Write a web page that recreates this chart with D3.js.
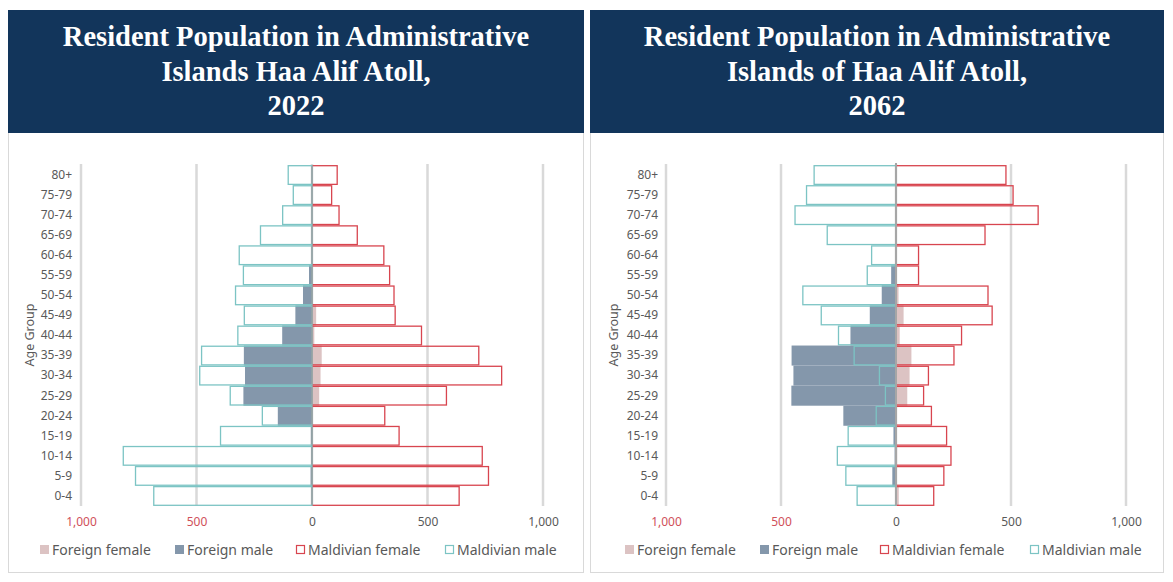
<!DOCTYPE html>
<html>
<head>
<meta charset="utf-8">
<script src="https://cdn.jsdelivr.net/npm/d3@7"></script>
<style>
  body { margin: 0; background: #fff; }
  svg { display: block; }
</style>
</head>
<body>
<div id="chart"></div>
<script>
const ageGroups = ["0-4", "5-9", "10-14", "15-19", "20-24", "25-29", "30-34", "35-39",
  "40-44", "45-49", "50-54", "55-59", "60-64", "65-69", "70-74", "75-79", "80+"];

// 2022
const maldivianMale2022 = [685, 764, 817, 396, 215, 354, 486, 478, 321, 293, 331, 297, 315, 223, 127, 81, 103];
const maldivianFemale2022 = [637, 764, 737, 377, 315, 582, 821, 722, 474, 360, 355, 336, 311, 196, 117, 85, 109];
const foreignMale2022 = [0, 6, 2, 5, 148, 297, 290, 295, 129, 72, 39, 13, 0, 0, 0, 0, 0];
const foreignFemale2022 = [2, 2, 2, 2, 3, 31, 37, 42, 10, 18, 3, 1, 0, 0, 0, 0, 0];

// 2062
const maldivianMale2062 = [169, 218, 255, 208, 86, 46, 72, 182, 250, 325, 405, 125, 106, 299, 439, 389, 356];
const maldivianFemale2062 = [164, 208, 239, 220, 154, 120, 141, 252, 285, 418, 400, 98, 98, 387, 618, 509, 478];
const foreignMale2062 = [3, 16, 6, 11, 229, 455, 446, 454, 198, 114, 62, 21, 0, 0, 0, 0, 0];
const foreignFemale2062 = [12, 4, 5, 3, 3, 49, 59, 67, 16, 33, 11, 2, 0, 0, 0, 0, 0];

const tickValues = [-1000, -500, 0, 500, 1000];
const legendLabels = ["Foreign female", "Foreign male", "Maldivian female", "Maldivian male"];

const colors = {
  header: "#12355b",
  foreignFemale: "#dcc3c3",
  foreignMale: "#8497ab",
  maldFemale: "#d8454f",
  maldMale: "#7cc4c4",
  grid: "#d9d9d9",
  text: "#595959",
  negTick: "#d0505a"
};

const width = 1173, height = 582;

const svg = d3.select("#chart")
  .append("svg")
  .attr("width", width)
  .attr("height", height);

const panels = [
  {
    x0: 8, x1: 584,
    title: ["Resident Population in Administrative", "Islands Haa Alif Atoll,", "2022"],
    plot: [81, 543],
    labelX: 72,
    axisTitleX: 34,
    zeroLine: false,
    mm: maldivianMale2022, mf: maldivianFemale2022, fm: foreignMale2022, ff: foreignFemale2022,
    legendX: [40, 175, 296, 445]
  },
  {
    x0: 590, x1: 1164,
    title: ["Resident Population in Administrative", "Islands of Haa Alif Atoll,", "2062"],
    plot: [666, 1126],
    labelX: 658,
    axisTitleX: 618,
    zeroLine: true,
    mm: maldivianMale2062, mf: maldivianFemale2062, fm: foreignMale2062, ff: foreignFemale2062,
    legendX: [625, 760, 880, 1030]
  }
];

const yScale = d3.scaleBand()
  .domain(ageGroups.slice().reverse())
  .range([165, 506])
  .paddingInner(0);

panels.forEach((p) => {
  const g = svg.append("g");

  // panel frame + header
  g.append("rect")
    .attr("x", p.x0 + 0.5).attr("y", 10.5)
    .attr("width", p.x1 - p.x0 - 1).attr("height", 562)
    .attr("fill", "#fff")
    .attr("stroke", "#d9d9d9");

  g.append("rect")
    .attr("x", p.x0).attr("y", 10)
    .attr("width", p.x1 - p.x0).attr("height", 123)
    .attr("fill", colors.header);

  const cx = (p.x0 + p.x1) / 2;
  g.append("text")
    .attr("text-anchor", "middle")
    .attr("font-family", "'Liberation Serif', 'DejaVu Serif', serif")
    .attr("font-weight", "bold")
    .attr("font-size", 28.5)
    .attr("fill", "#fff")
    .selectAll("tspan")
    .data(p.title)
    .join("tspan")
    .attr("x", cx)
    .attr("y", (d, i) => 46 + i * 34.5)
    .text((d) => d);

  const xScale = d3.scaleLinear()
    .domain([-1000, 1000])
    .range(p.plot);

  // gridlines
  g.append("g")
    .selectAll("line")
    .data(tickValues)
    .join("line")
    .attr("x1", (d) => xScale(d)).attr("x2", (d) => xScale(d))
    .attr("y1", 164).attr("y2", 506)
    .attr("stroke", colors.grid)
    .attr("stroke-width", 2.5);

  // x axis
  const xAxis = g.append("g")
    .attr("transform", `translate(0, 506)`)
    .call(d3.axisBottom(xScale)
      .tickValues(tickValues)
      .tickSize(0)
      .tickPadding(11)
      .tickFormat((d) => d3.format(",")(Math.abs(d))));
  xAxis.select(".domain").remove();
  xAxis.selectAll("text")
    .attr("font-family", "'Noto Sans', sans-serif")
    .attr("font-size", 12)
    .attr("fill", (d) => d < 0 ? colors.negTick : colors.text);

  // y labels
  const yAxis = g.append("g")
    .attr("transform", `translate(${p.labelX}, 0)`)
    .call(d3.axisLeft(yScale).tickSize(0).tickPadding(0));
  yAxis.select(".domain").remove();
  yAxis.selectAll("text")
    .attr("font-family", "'Noto Sans', sans-serif")
    .attr("font-size", 12)
    .attr("fill", colors.text);

  g.append("text")
    .attr("transform", `translate(${p.axisTitleX}, 335) rotate(-90)`)
    .attr("text-anchor", "middle")
    .attr("font-family", "'Noto Sans', sans-serif")
    .attr("font-size", 12.5)
    .attr("fill", colors.text)
    .text("Age Group");

  const zero = xScale(0);
  const bh = yScale.bandwidth();

  // foreign female (filled, right)
  g.append("g")
    .selectAll("rect")
    .data(ageGroups)
    .join("rect")
    .attr("x", zero)
    .attr("y", (d) => yScale(d))
    .attr("width", (d, i) => xScale(p.ff[i]) - zero)
    .attr("height", bh)
    .attr("fill", colors.foreignFemale);

  // foreign male (filled, left)
  g.append("g")
    .selectAll("rect")
    .data(ageGroups)
    .join("rect")
    .attr("x", (d, i) => xScale(-p.fm[i]))
    .attr("y", (d) => yScale(d))
    .attr("width", (d, i) => zero - xScale(-p.fm[i]))
    .attr("height", bh)
    .attr("fill", colors.foreignMale);

  // maldivian female (outline, right)
  g.append("g")
    .selectAll("rect")
    .data(ageGroups)
    .join("rect")
    .attr("x", zero)
    .attr("y", (d) => yScale(d) + 0.7)
    .attr("width", (d, i) => xScale(p.mf[i]) - zero)
    .attr("height", bh - 1.4)
    .attr("fill", "none")
    .attr("stroke", colors.maldFemale)
    .attr("stroke-width", 1.3);

  // maldivian male (outline, left)
  g.append("g")
    .selectAll("rect")
    .data(ageGroups)
    .join("rect")
    .attr("x", (d, i) => xScale(-p.mm[i]))
    .attr("y", (d) => yScale(d) + 0.7)
    .attr("width", (d, i) => zero - xScale(-p.mm[i]))
    .attr("height", bh - 1.4)
    .attr("fill", "none")
    .attr("stroke", colors.maldMale)
    .attr("stroke-width", 1.3);

  if (p.zeroLine) {
    g.append("line")
      .attr("x1", zero).attr("x2", zero)
      .attr("y1", 163).attr("y2", 506)
      .attr("stroke", "#a6a6a6")
      .attr("stroke-width", 2);
  }

  // legend
  const legend = g.append("g")
    .selectAll("g")
    .data(legendLabels)
    .join("g")
    .attr("transform", (d, i) => `translate(${p.legendX[i]}, 550)`);

  legend.append("rect")
    .attr("x", (d, i) => i < 2 ? 0 : 0.5)
    .attr("y", (d, i) => i < 2 ? -5 : -4.5)
    .attr("width", (d, i) => i < 2 ? 9 : 8)
    .attr("height", (d, i) => i < 2 ? 9 : 8)
    .attr("fill", (d, i) => i === 0 ? colors.foreignFemale : i === 1 ? colors.foreignMale : "#fff")
    .attr("stroke", (d, i) => i === 2 ? colors.maldFemale : i === 3 ? colors.maldMale : "none")
    .attr("stroke-width", 1.2);

  legend.append("text")
    .attr("x", 12)
    .attr("y", 0)
    .attr("dy", "0.35em")
    .attr("font-family", "'Noto Sans', sans-serif")
    .attr("font-size", 14)
    .attr("fill", colors.text)
    .text((d) => d);
});
</script>
</body>
</html>
